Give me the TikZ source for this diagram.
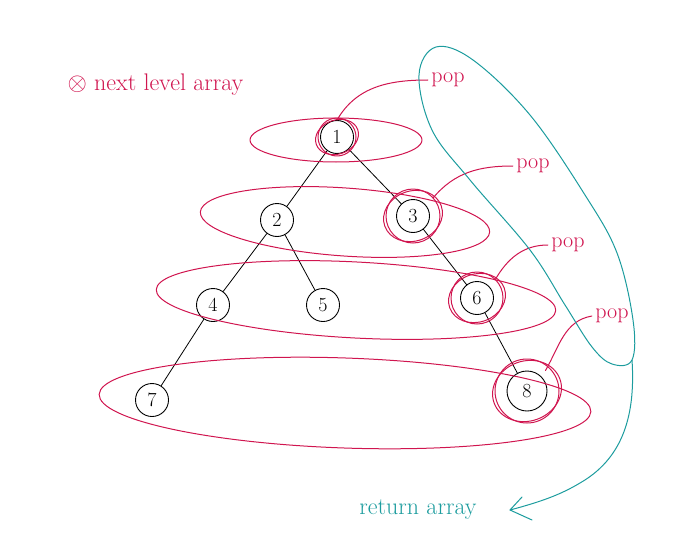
\documentclass[tikz,border=0pt]{standalone}
\usepackage{amsmath,amssymb}
\usetikzlibrary{arrows.meta}
\definecolor{penred}{HTML}{D0154F}
\definecolor{penteal}{HTML}{1C9C9E}
\tikzset{
  every picture/.style={line join=round, line cap=round, >=Stealth},
  treenode/.style={circle, draw=black, line width=0.9pt, minimum size=33pt, inner sep=0pt, font=\fontsize{20}{22}\selectfont},
  treeedge/.style={draw=black, line width=0.8pt},
  levelloop/.style={draw=penred, line width=1pt},
  popring/.style={draw=penred, line width=1pt},
  poplabel/.style={text=penred, font=\fontsize{22}{24}\selectfont},
  popline/.style={draw=penred, line width=1pt},
  tealpen/.style={draw=penteal, line width=1pt},
}

\begin{document}
\begin{tikzpicture}[x=1pt,y=-1pt]
\useasboundingbox (0,0) rectangle (700,559);
% tree
\node[treenode] (n1) at (337,137) {1};
\node[treenode] (n2) at (277,220) {2};
\node[treenode] (n3) at (413,216) {3};
\node[treenode] (n4) at (213,305) {4};
\node[treenode] (n5) at (323,305) {5};
\node[treenode] (n6) at (477,298) {6};
\node[treenode] (n7) at (152,400) {7};
\node[treenode,minimum size=40pt] (n8) at (527,391) {8};
\draw[treeedge] (n1) -- (n2);
\draw[treeedge] (n1) -- (n3);
\draw[treeedge] (n2) -- (n4);
\draw[treeedge] (n2) -- (n5);
\draw[treeedge] (n3) -- (n6);
\draw[treeedge] (n4) -- (n7);
\draw[treeedge] (n6) -- (n8);
% level loops
\draw[levelloop] (336,140) ellipse[x radius=86, y radius=22];
\draw[levelloop,rotate around={-4:(345,222)}] (345,222) ellipse[x radius=145, y radius=34];
\draw[levelloop,rotate around={-3:(356,300)}] (356,300) ellipse[x radius=200, y radius=38];
\draw[levelloop,rotate around={-2:(345,403)}] (345,403) ellipse[x radius=246, y radius=45];
% popped nodes
\foreach \n/\r in {n1/19,n3/27,n6/26,n8/32}{
  \draw[popring] (\n) circle[radius=\r];
  \draw[popring,rotate around={20:(\n)}] (\n) ellipse[x radius=\r+3, y radius=\r-2];
}
\node[poplabel] (p1) at (448,80) {pop};
\node[poplabel] (p2) at (533,166) {pop};
\node[poplabel] (p3) at (568,245) {pop};
\node[poplabel] (p4) at (612,316) {pop};
\draw[popline] (n1.north) to[out=60,in=180] (p1.west);
\draw[popline] (n3.north east) ++(8,-6) to[out=50,in=180] (p2.west);
\draw[popline] (n6.north east) ++(6,-6) to[out=60,in=180] (p3.west);
\draw[popline] (n8.north east) ++(4,-6) to[out=60,in=190] (p4.west);
% return loop
\coordinate (tail) at (632,360);
\node[text=penteal, font=\fontsize{24}{26}\selectfont] (ret) at (418,510) {return array};
\coordinate (tip) at (510,510);
\draw[tealpen] plot[smooth cycle, tension=0.6] coordinates {
  (tail) (612,364) (592,347) (565,305) (530,250) (470,180) (432,130)
  (419,75) (436,47) (473,60) (530,115) (585,195) (617,253) (633,320)};
\draw[tealpen] (tail) .. controls (636,420) and (620,460) .. (580,483)
  .. controls (560,495) and (540,502) .. (tip);
\draw[tealpen] (522,497) -- (tip) -- (532,520);
% title
\node[text=penred, font=\fontsize{24}{26}\selectfont, anchor=west] (title) at (64,85) {$\otimes$ next level array};
\end{tikzpicture}
\end{document}
